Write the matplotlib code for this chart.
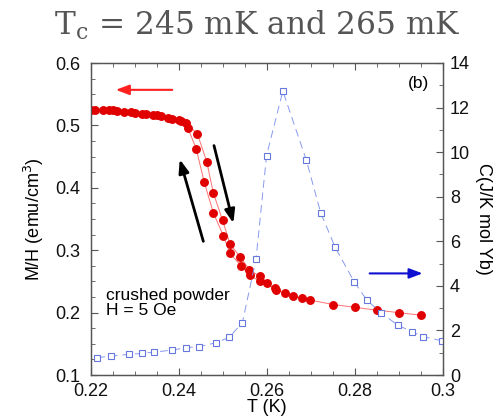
import matplotlib
matplotlib.use("Agg")
import matplotlib.pyplot as plt
from matplotlib.ticker import MultipleLocator

# --- data ---
T_cool = [0.2200, 0.2228, 0.2250, 0.2275, 0.2300, 0.2325, 0.2350, 0.2375, 0.2400,
          0.2420, 0.2439, 0.2457, 0.2478, 0.2501, 0.2516, 0.2541, 0.2561, 0.2584, 0.2618]
M_cool = [0.525, 0.525, 0.524, 0.522, 0.520, 0.518, 0.516, 0.512, 0.508,
          0.496, 0.463, 0.410, 0.360, 0.323, 0.295, 0.275, 0.260, 0.250, 0.239]

T_warm = [0.2210, 0.2240, 0.2260, 0.2290, 0.2315, 0.2340, 0.2360, 0.2385, 0.2405, 0.2417,
          0.2442, 0.2463, 0.2478, 0.2499, 0.2516, 0.2539, 0.2560, 0.2583, 0.2600, 0.2620,
          0.2641, 0.2658, 0.2679, 0.2698, 0.2751, 0.2800, 0.2849, 0.2900, 0.2949]
M_warm = [0.525, 0.524, 0.523, 0.521, 0.519, 0.517, 0.515, 0.511, 0.507, 0.504,
          0.486, 0.442, 0.392, 0.348, 0.310, 0.289, 0.269, 0.258, 0.247, 0.237,
          0.232, 0.227, 0.223, 0.220, 0.213, 0.2085, 0.204, 0.200, 0.196]

T_C = [0.2214, 0.2245, 0.2287, 0.2315, 0.2343, 0.2385, 0.2415, 0.2445, 0.2484, 0.2514,
       0.2544, 0.2575, 0.2599, 0.2636, 0.2689, 0.2722, 0.2755, 0.2798, 0.2827, 0.2859,
       0.2897, 0.2930, 0.2955, 0.2997]
C = [0.78, 0.85, 0.93, 0.97, 1.03, 1.12, 1.23, 1.27, 1.45, 1.69,
     2.35, 5.2, 9.85, 12.74, 9.67, 7.28, 5.73, 4.19, 3.36, 2.80,
     2.24, 1.94, 1.72, 1.54]

x_ticks = [0.22, 0.24, 0.26, 0.28, 0.30]
x_ticklabels = ['0.22', '0.24', '0.26', '0.28', '0.3']
y_ticks = [0.1, 0.2, 0.3, 0.4, 0.5, 0.6]
y_ticklabels = ['0.1', '0.2', '0.3', '0.4', '0.5', '0.6']

title = "T$_\\mathrm{c}$ = 245 mK and 265 mK"

plt.rcParams['font.family'] = ['Liberation Sans', 'DejaVu Sans']
plt.rcParams['mathtext.fontset'] = 'dejavuserif'

fig = plt.figure(figsize=(5, 4.2), dpi=100)
ax = fig.add_axes([0.182, 0.107, 0.704, 0.743])
ax2 = ax.twinx()

red = '#e00000'
ax.plot(T_cool, M_cool, '-', color='#ff7070', lw=0.7, zorder=2)
ax.plot(T_warm, M_warm, '-', color='#ff7070', lw=0.7, zorder=2)
ax.plot(T_cool, M_cool, 'o', color=red, ms=5.4, mec=red, ls='none', zorder=3)
ax.plot(T_warm, M_warm, 'o', color=red, ms=5.4, mec=red, ls='none', zorder=3)

ax2.plot(T_C, C, ls=(0, (8, 5)), color='#8899ee', lw=0.7, marker='s', ms=5,
         mfc='white', mec='#6677dd', mew=0.8)

ax.set_xlim(0.22, 0.30)
ax.set_ylim(0.1, 0.6)
ax2.set_ylim(0, 14)

ax.xaxis.set_minor_locator(MultipleLocator(0.005))
ax.yaxis.set_minor_locator(MultipleLocator(0.025))
ax2.yaxis.set_major_locator(MultipleLocator(2))
ax2.yaxis.set_minor_locator(MultipleLocator(1))

ax.set_xticks(x_ticks)
ax.set_xticklabels(x_ticklabels)
ax.set_yticks(y_ticks)
ax.set_yticklabels(y_ticklabels)

for a in (ax, ax2):
    for s in a.spines.values():
        s.set_color('#555555')
        s.set_linewidth(0.9)
ax.tick_params(which='both', direction='in', top=True, labelsize=13, colors='#555555',
               labelcolor='#111111')
ax.tick_params(axis='x', pad=6)
ax.tick_params(axis='y', pad=8)
ax.tick_params(which='major', length=5)
ax.tick_params(which='minor', length=3)
ax2.tick_params(which='both', direction='in', labelsize=13, colors='#555555',
                labelcolor='#111111', pad=5)
ax2.tick_params(which='major', length=5)
ax2.tick_params(which='minor', length=3)

ax.set_xlabel('T (K)', fontsize=13, labelpad=-1)
ax.set_ylabel('M/H (emu/cm$^3$)', fontsize=13, labelpad=6)
ax2.set_ylabel('C(J/K mol Yb)', fontsize=13, rotation=-90, labelpad=16)
ax.yaxis.label.set_math_fontfamily('dejavusans')

# arrows
ax.annotate('', xy=(0.2250, 0.557), xytext=(0.2391, 0.557),
            arrowprops=dict(arrowstyle='-|>,head_length=0.8,head_width=0.3', color='#ff2020', lw=1.5))
ax2.annotate('', xy=(0.2960, 4.56), xytext=(0.2827, 4.56),
             arrowprops=dict(arrowstyle='-|>,head_length=0.8,head_width=0.3', color='#1010d0', lw=1.5))
ax.annotate('', xy=(0.2400, 0.450), xytext=(0.2457, 0.310),
            arrowprops=dict(arrowstyle='-|>,head_length=0.8,head_width=0.3', color='black', lw=2))
ax.annotate('', xy=(0.2525, 0.339), xytext=(0.2478, 0.472),
            arrowprops=dict(arrowstyle='-|>,head_length=0.8,head_width=0.3', color='black', lw=2))

ax.text(0.93, 0.935, '(b)', transform=ax.transAxes, fontsize=12.5, ha='center', va='center')
ax.text(0.043, 0.28, 'crushed powder\nH = 5 Oe', transform=ax.transAxes, fontsize=12.5,
        ha='left', va='top', linespacing=1.0)

fig.text(0.514, 0.94, title, fontsize=22.5, ha='center', va='center', color='#555555',
         family=['DejaVu Serif'])

fig.savefig('out.png', dpi=100)
